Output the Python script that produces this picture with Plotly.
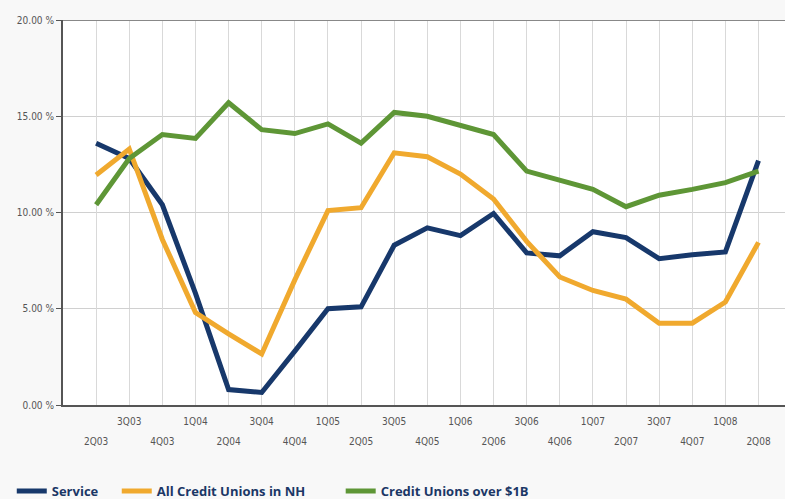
import plotly.graph_objects as go

quarters = ["2Q03", "3Q03", "4Q03", "1Q04", "2Q04", "3Q04", "4Q04", "1Q05", "2Q05", "3Q05",
            "4Q05", "1Q06", "2Q06", "3Q06", "4Q06", "1Q07", "2Q07", "3Q07", "4Q07", "1Q08", "2Q08"]

service = [13.6, 12.8, 10.4, 5.8, 0.8, 0.65, 2.8, 5.0, 5.1, 8.3,
           9.2, 8.8, 9.95, 7.9, 7.75, 9.0, 8.7, 7.6, 7.8, 7.95, 12.7]
all_nh = [11.95, 13.3, 8.6, 4.8, 3.7, 2.65, 6.5, 10.1, 10.25, 13.1,
          12.9, 12.0, 10.7, 8.5, 6.65, 5.95, 5.5, 4.25, 4.25, 5.35, 8.45]
over_1b = [10.4, 12.8, 14.05, 13.85, 15.7, 14.3, 14.1, 14.6, 13.6, 15.2,
           15.0, 14.55, 14.05, 12.15, 11.7, 11.2, 10.3, 10.9, 11.2, 11.55, 12.15]

series_names = ["Service", "All Credit Unions in NH", "Credit Unions over $1B"]
legend_pad = ["\u00a0" * 4, "\u00a0" * 9, ""]
colors = ["#17386b", "#f0a92e", "#5e9636"]

y_ticks = [0, 5, 10, 15, 20]

x_idx = list(range(len(quarters)))
odd_idx = x_idx[1::2]
even_idx = x_idx[0::2]

fig = go.Figure()
for name, pad, vals, col in zip(series_names, legend_pad, [service, all_nh, over_1b], colors):
    fig.add_trace(go.Scatter(x=x_idx, y=vals, mode="lines", name=name + pad,
                             line=dict(color=col, width=5)))
# invisible carrier trace for the second (lower) row of quarter labels
fig.add_trace(go.Scatter(x=x_idx, y=service, mode="lines", xaxis="x2", yaxis="y",
                         line=dict(width=0, color="rgba(0,0,0,0)"), showlegend=False,
                         hoverinfo="skip"))

axis_font = dict(family="Liberation Sans Narrow, DejaVu Sans Condensed, Arial", size=10, color="#555555")

fig.update_layout(
    width=785, height=499,
    margin=dict(l=63, r=0, t=20, b=94),
    paper_bgcolor="#f8f8f8",
    plot_bgcolor="#ffffff",
    font=axis_font,
    showlegend=True,
    legend=dict(orientation="h", xref="container", yref="container",
                x=0.015, y=0.016, xanchor="left", yanchor="middle",
                font=dict(family="Open Sans, Arial", size=13, color="#1b3766", weight="bold"),
                itemwidth=30, tracegroupgap=0, bgcolor="rgba(0,0,0,0)"),
    xaxis=dict(range=[-1, 20.8], tickmode="array", tickvals=odd_idx,
               ticktext=[quarters[i] for i in odd_idx],
               showgrid=True, gridcolor="#d9d9d9", gridwidth=1,
               showline=True, linecolor="#555555", linewidth=2, zeroline=False,
               ticks="", ticklabelstandoff=6, tickfont=axis_font),
    xaxis2=dict(range=[-1, 20.8], overlaying="x", side="bottom", anchor="y",
                tickmode="array", tickvals=even_idx,
                ticktext=[quarters[i] for i in even_idx],
                showgrid=True, gridcolor="#d9d9d9", gridwidth=1,
                showline=False, zeroline=False,
                ticks="", ticklabelstandoff=29, tickfont=axis_font),
    yaxis=dict(range=[0, 20], tickmode="array", tickvals=y_ticks,
               ticktext=[f"{v:.2f} %" for v in y_ticks],
               showgrid=True, gridcolor="#d0d0d0", gridwidth=1,
               showline=True, linecolor="#555555", linewidth=2, zeroline=False,
               ticks="outside", ticklen=5, tickcolor="#555555",
               tickfont=axis_font),
)
fig.add_shape(type="line", xref="paper", yref="y", x0=0, x1=1, y0=20, y1=20,
              line=dict(color="#888888", width=2))

fig.write_html("out.html", config={"displayModeBar": False},
               post_script="document.body.style.margin='0';document.body.style.overflow='hidden';")
